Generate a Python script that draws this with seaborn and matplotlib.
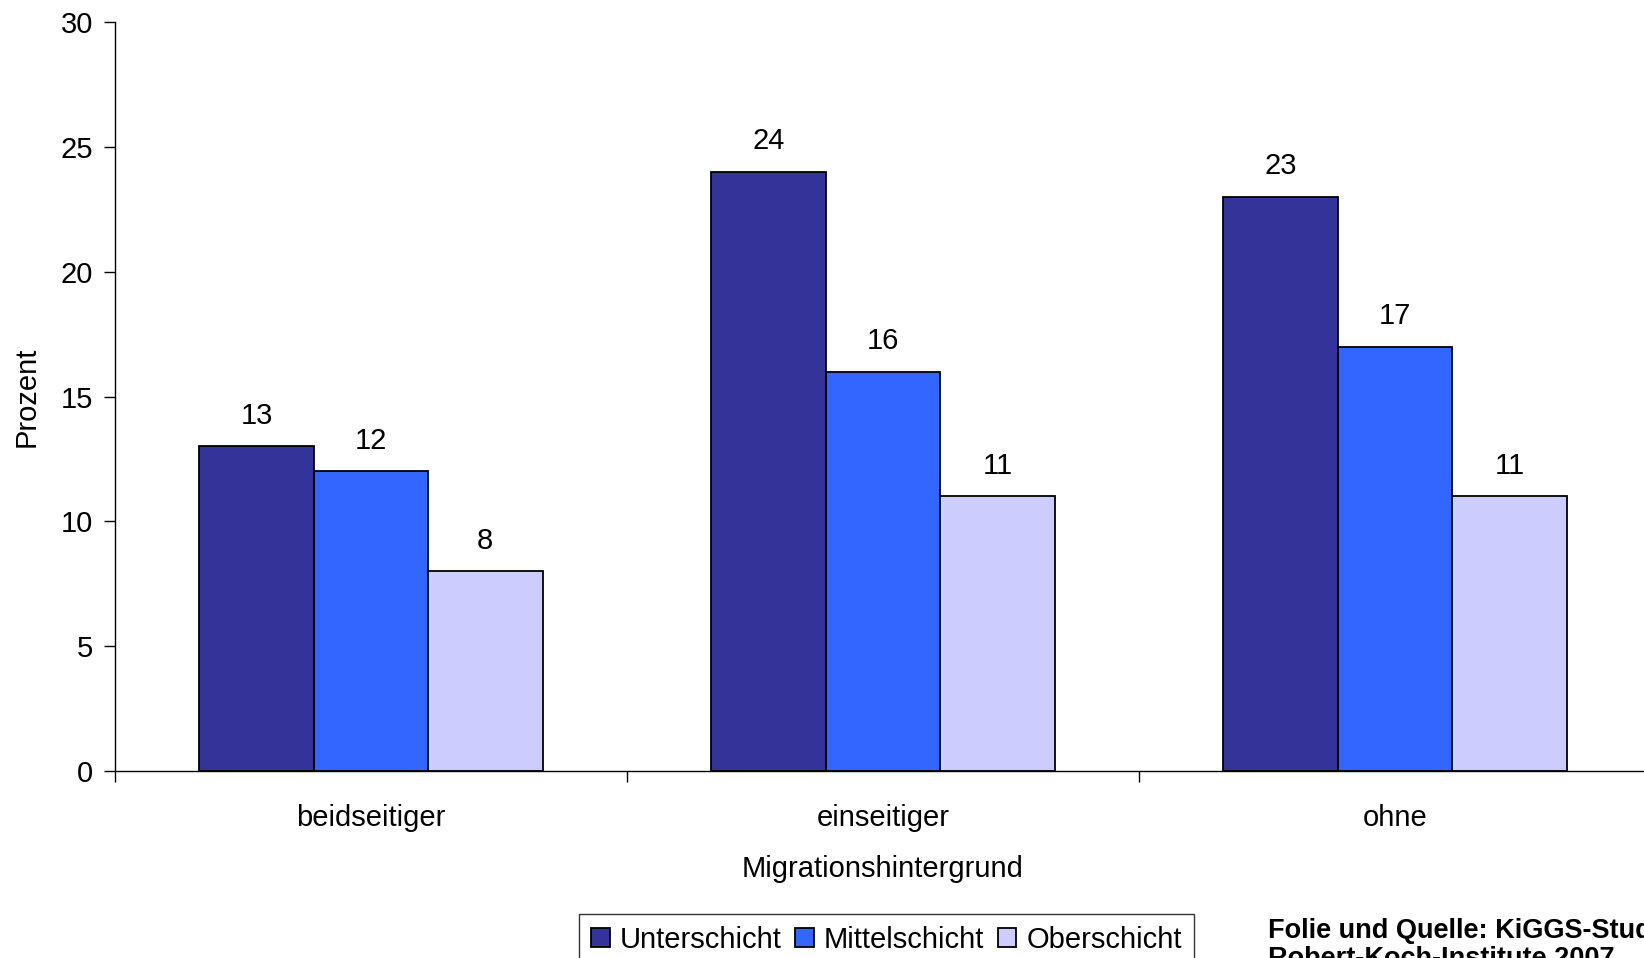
import matplotlib
matplotlib.use('Agg')
import matplotlib.pyplot as plt
import pandas as pd
import seaborn as sns

categories = ['beidseitiger', 'einseitiger', 'ohne']
schichten = ['Unterschicht', 'Mittelschicht', 'Oberschicht']
unterschicht = [13, 24, 23]
mittelschicht = [12, 16, 17]
oberschicht = [8, 11, 11]
colors = ['#333399', '#3366FF', '#CCCCFF']

sns.set_theme(style='white')
plt.rcParams['font.family'] = ['Liberation Sans', 'DejaVu Sans']
plt.rcParams['font.size'] = 21
for k in ['text.color', 'axes.labelcolor', 'xtick.color', 'ytick.color']:
    plt.rcParams[k] = 'black'

df = pd.DataFrame({
    'Migrationshintergrund': categories * 3,
    'Schicht': [s for s in schichten for _ in categories],
    'Prozent': unterschicht + mittelschicht + oberschicht,
})

fig = plt.figure(figsize=(16.44, 9.58), dpi=100)
ax = fig.add_axes([115 / 1644, 1 - 771 / 958, (1651 - 115) / 1644, (771 - 22) / 958])

sns.barplot(data=df, x='Migrationshintergrund', y='Prozent', hue='Schicht',
            palette=colors, width=0.67, gap=0, edgecolor='black', linewidth=1.3,
            saturation=1, ax=ax, legend=False)

for c in ax.containers:
    ax.bar_label(c, padding=12, fontsize=21)

ax.set_ylim(0, 30)
ax.set_xlim(-0.5, 2.5)
ax.set_yticks(range(0, 31, 5))
ax.set_xticks(range(3))
ax.set_xticklabels(categories)
ax.set_xticks([-0.5, 0.5, 1.5, 2.5], minor=True)
ax.tick_params(axis='x', which='major', length=0, pad=24, labelsize=21)
ax.tick_params(axis='x', which='minor', length=8, width=1, color='black', direction='out', bottom=True)
ax.tick_params(axis='y', length=8, width=1, color='black', direction='out', left=True, labelsize=21, pad=8)
ax.set_xlabel('Migrationshintergrund', fontsize=21, labelpad=16)
ax.set_ylabel('Prozent', fontsize=21, labelpad=14)

sns.despine(ax=ax)
for s in ['left', 'bottom']:
    ax.spines[s].set_color('black')
    ax.spines[s].set_linewidth(1)

handles = [plt.Rectangle((0, 0), 1, 1, facecolor=c, edgecolor='black', linewidth=1.3) for c in colors]
leg = fig.legend(handles, schichten, loc='upper left', bbox_to_anchor=(579 / 1644, 1 - 914 / 958),
                 borderaxespad=0, ncol=3, frameon=True, fancybox=False, fontsize=21, handlelength=0.65,
                 handleheight=0.65, handletextpad=0.35, columnspacing=0.45, borderpad=0.4)
leg.get_frame().set_edgecolor('black')
leg.get_frame().set_linewidth(1)

fig.text(1268 / 1644, 1 - 918 / 958, 'Folie und Quelle: KiGGS-Studie\nRobert-Koch-Institute 2007',
         fontsize=19.5, fontweight='bold', va='top', ha='left', linespacing=1.1)

fig.savefig('out.png', dpi=100)
